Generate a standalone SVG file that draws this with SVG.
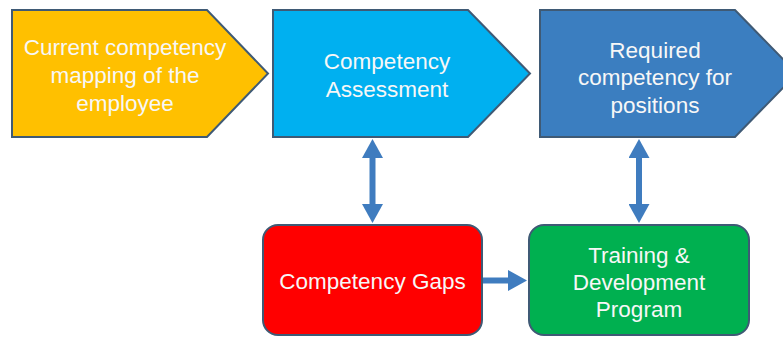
<svg xmlns="http://www.w3.org/2000/svg" width="783" height="337" viewBox="0 0 783 337">
  <style>
    .shape { stroke: #3F5A75; stroke-width: 2; }
    .label { font-family: "Liberation Sans", Arial, sans-serif; font-size: 22.5px; fill: #F7F7F7; text-anchor: middle; }
    .conn { stroke: #3F7CBF; stroke-width: 6; fill: none; }
  </style>
  <defs>
    <marker id="head" viewBox="0 0 19 21" markerUnits="userSpaceOnUse" markerWidth="19" markerHeight="21" refX="2" refY="10.5" orient="auto-start-reverse">
      <path d="M0,0 L19,10.5 L0,21 Z" fill="#3F7CBF"/>
    </marker>
  </defs>
  <rect width="783" height="337" fill="#FFFFFF"/>

  <g id="node-current">
    <path class="shape" d="M12,10 L207,10 L268,73.5 L207,137 L12,137 Z" fill="#FFC000"/>
    <text class="label" x="125" y="55">Current competency</text>
    <text class="label" x="125" y="83">mapping of the</text>
    <text class="label" x="125" y="111">employee</text>
  </g>

  <g id="node-assessment">
    <path class="shape" d="M273,10 L468,10 L530,73.5 L468,137 L273,137 Z" fill="#00B0F0"/>
    <text class="label" x="387" y="68.5">Competency</text>
    <text class="label" x="387" y="96.5">Assessment</text>
  </g>

  <g id="node-required">
    <path class="shape" d="M540,10 L735,10 L797,73.5 L735,137 L540,137 Z" fill="#3B7EC0"/>
    <text class="label" x="655" y="57.5">Required</text>
    <text class="label" x="655" y="85">competency for</text>
    <text class="label" x="655" y="112.5">positions</text>
  </g>

  <g id="node-gaps">
    <rect class="shape" x="263" y="225" width="219" height="110" rx="15" ry="15" fill="#FF0000"/>
    <text class="label" x="372.5" y="289">Competency Gaps</text>
  </g>

  <g id="node-training">
    <rect class="shape" x="529" y="225" width="220" height="110" rx="15" ry="15" fill="#00B050"/>
    <text class="label" x="639" y="262.5">Training &amp;</text>
    <text class="label" x="639" y="290">Development</text>
    <text class="label" x="639" y="317">Program</text>
  </g>

  <g id="connectors">
    <line class="conn" x1="372.5" y1="156" x2="372.5" y2="206" marker-start="url(#head)" marker-end="url(#head)"/>
    <line class="conn" x1="639" y1="156" x2="639" y2="206" marker-start="url(#head)" marker-end="url(#head)"/>
    <line class="conn" x1="483" y1="280.5" x2="510" y2="280.5" marker-end="url(#head)"/>
  </g>
</svg>
